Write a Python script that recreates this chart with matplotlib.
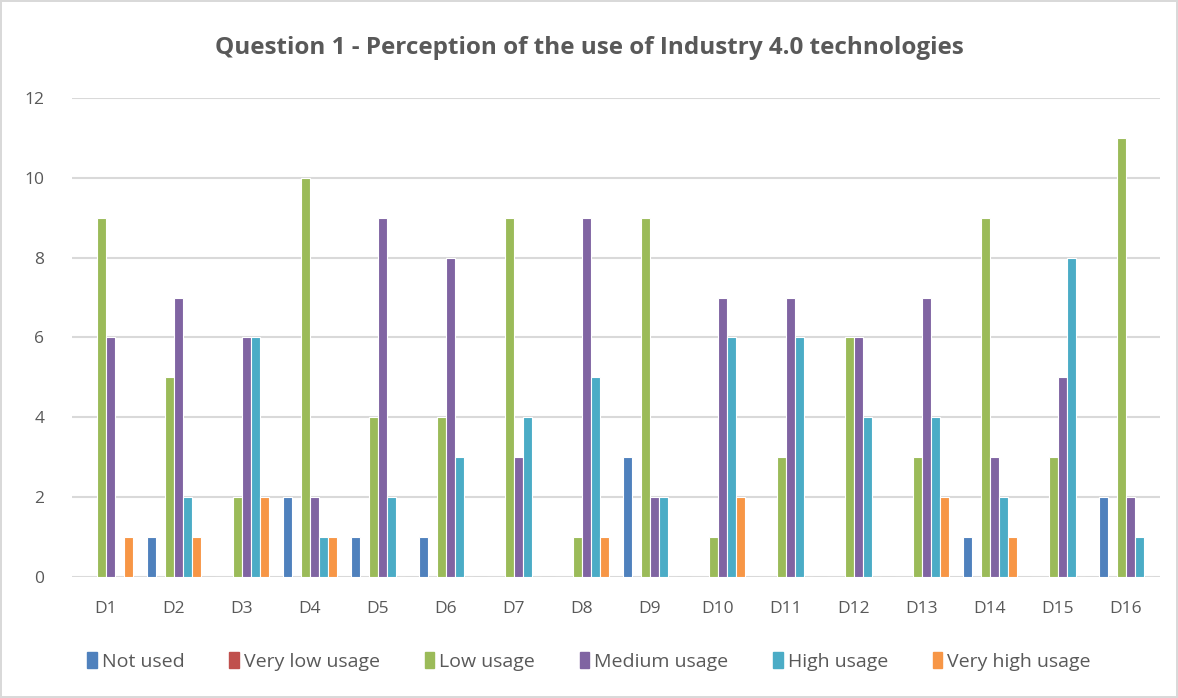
import matplotlib.pyplot as plt
import matplotlib.patches as mpatches
import numpy as np

# Categories and series values
categories = ["D1", "D2", "D3", "D4", "D5", "D6", "D7", "D8",
              "D9", "D10", "D11", "D12", "D13", "D14", "D15", "D16"]
not_used = [0, 1, 0, 2, 1, 1, 0, 0, 3, 0, 0, 0, 0, 1, 0, 2]
very_low = [0, 0, 0, 0, 0, 0, 0, 0, 0, 0, 0, 0, 0, 0, 0, 0]
low = [9, 5, 2, 10, 4, 4, 9, 1, 9, 1, 3, 6, 3, 9, 3, 11]
medium = [6, 7, 6, 2, 9, 8, 3, 9, 2, 7, 7, 6, 7, 3, 5, 2]
high = [0, 2, 6, 1, 2, 3, 4, 5, 2, 6, 6, 4, 4, 2, 8, 1]
very_high = [1, 1, 2, 1, 0, 0, 0, 1, 0, 2, 0, 0, 2, 1, 0, 0]

series_names = ["Not used", "Very low usage", "Low usage",
                "Medium usage", "High usage", "Very high usage"]
series_values = [not_used, very_low, low, medium, high, very_high]
series_colors = ["#4F81BD", "#C0504D", "#9BBB59", "#8064A2", "#4BACC6", "#F79646"]

plt.rcParams["font.family"] = ["Open Sans", "DejaVu Sans"]
TEXT = "#595959"
GRID = "#d9d9d9"

fig = plt.figure(figsize=(11.78, 6.98), dpi=100)
fig.patch.set_edgecolor(GRID)
fig.patch.set_linewidth(1.5)
ax = fig.add_axes([0.0611, 0.1734, 0.9236, 0.6862])

x = np.arange(len(categories))
bar_w = 0.132
n = len(series_values)
for i, (vals, col) in enumerate(zip(series_values, series_colors)):
    offs = (i - (n - 1) / 2) * bar_w
    ax.bar(x + offs, vals, width=bar_w, color=col, edgecolor="white",
           linewidth=0.8, zorder=3)

ax.set_xlim(-0.5, len(categories) - 0.5)
ax.set_ylim(0, 12)
ax.set_yticks(range(0, 13, 2))
ax.set_xticks(x)
ax.set_xticklabels(categories)
ax.tick_params(length=0, labelsize=12.5, colors=TEXT)
ax.tick_params(axis="y", pad=20)
ax.tick_params(axis="x", pad=17)
ax.grid(axis="y", color=GRID, linewidth=1.5, zorder=0)
for s in ax.spines.values():
    s.set_visible(False)

fig.text(0.5, 0.931, "Question 1 - Perception of the use of Industry 4.0 technologies",
         ha="center", va="center", fontsize=17.5, fontweight="bold", color=TEXT)

handles = [mpatches.Patch(color=c, label=l) for c, l in zip(series_colors, series_names)]
fig.legend(handles=handles, loc="center", bbox_to_anchor=(0.5, 0.052), ncol=6,
           frameon=False, fontsize=14, handlelength=0.5, handleheight=0.9,
           handletextpad=0.25, columnspacing=2.3, labelcolor=TEXT)

plt.savefig("out.png", dpi=100)
